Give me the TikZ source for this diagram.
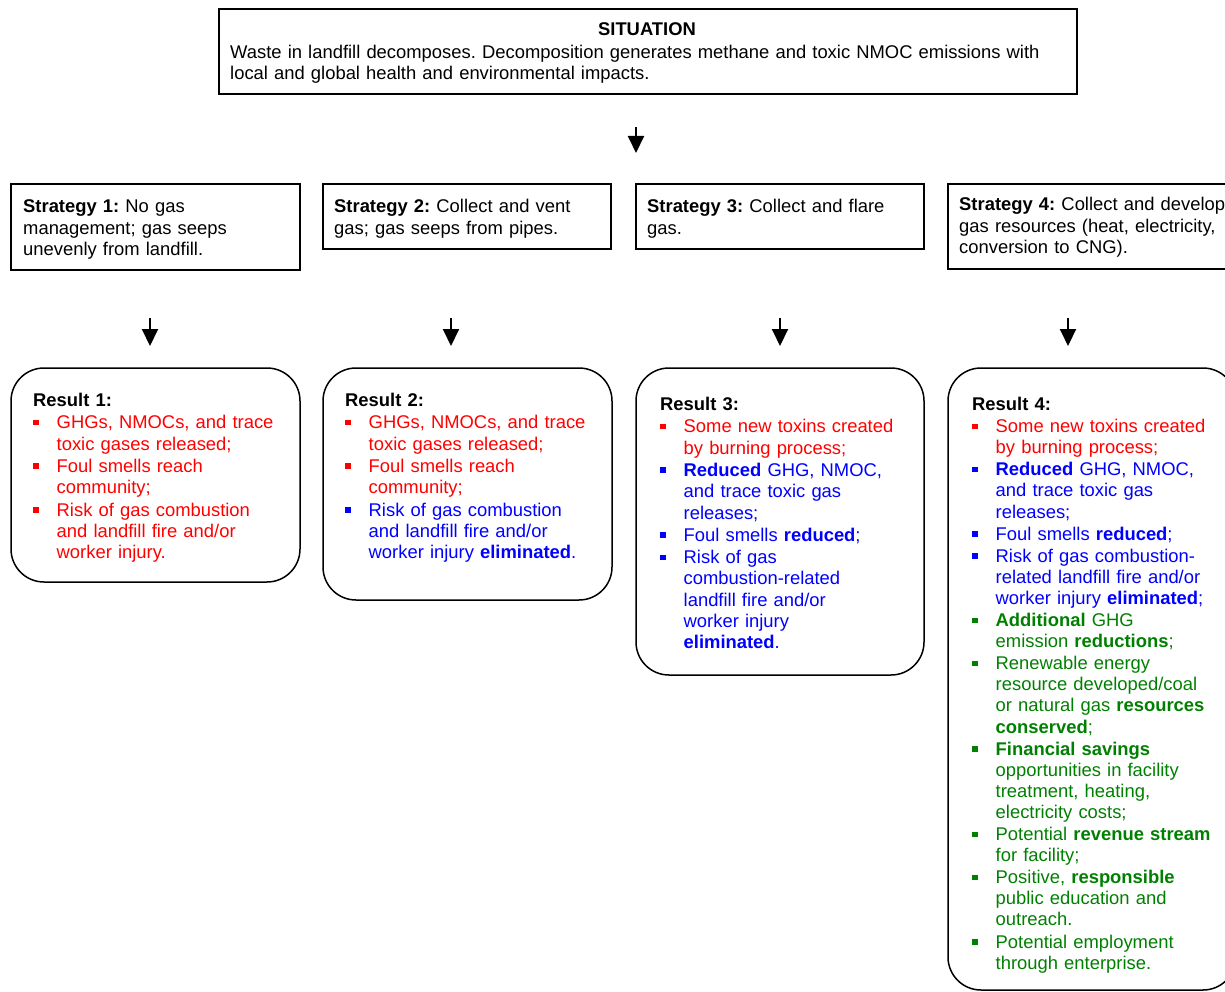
\documentclass[tikz,border=0pt]{standalone}
\usepackage{fontspec}
\setmainfont{Liberation Sans}
\usetikzlibrary{arrows.meta}
\definecolor{cred}{HTML}{FF0000}
\definecolor{cblue}{HTML}{0000FF}
\definecolor{cgreen}{HTML}{008000}
\newcommand{\mybul}{\makebox[23.5pt][l]{\raisebox{3.5pt}{\rule{5.5pt}{5.5pt}}}}
\newcommand{\ritem}[2]{\par\vspace{1pt}\noindent\hangindent=23.5pt\hangafter=1 {\color{#1}\mybul#2}\par}
\begin{document}
\frenchspacing
\begin{tikzpicture}[x=1pt,y=-1pt,
  sqbox/.style={draw=black,line width=1.7pt},
  rbox/.style={draw=black,line width=1.5pt,rounded corners=33pt},
  txt/.style={anchor=base west,inner sep=0pt,align=left,text width=320pt,
    font=\fontsize{18.4pt}{21.3pt}\selectfont\frenchspacing},
  flowarrow/.style={line width=2pt,-{Triangle[width=16pt,length=17pt]}}]
\useasboundingbox (0,0) rectangle (1225,992);
\clip (0,0) rectangle (1225,992);
% situation
\draw[sqbox] (219,9) rectangle (1077,94);
\node[anchor=base,inner sep=0pt,font=\fontsize{18.4pt}{21.3pt}\selectfont\bfseries] (sittitle) at (647,36) {SITUATION};
\node[txt,text width=900pt] (sittext) at (230,58.3) {Waste in landfill decomposes. Decomposition generates methane and toxic NMOC emissions with\newline local and global health and environmental impacts.};
% strategies
\draw[sqbox] (11,184) rectangle (300,270);
\draw[sqbox] (323,184) rectangle (611,249);
\draw[sqbox] (636,184) rectangle (924,249);
\draw[sqbox] (948,184) rectangle (1240,269);
\node[txt] (s1) at (23,213) {\textbf{Strategy 1:} No gas\newline management; gas seeps\newline unevenly from landfill.};
\node[txt] (s2) at (334,213) {\textbf{Strategy 2:} Collect and vent\newline gas; gas seeps from pipes.};
\node[txt] (s3) at (647,213) {\textbf{Strategy 3:} Collect and flare\newline gas.};
\node[txt] (s4) at (959,211) {\textbf{Strategy 4:} Collect and develop\newline gas resources (heat, electricity,\newline conversion to CNG).};
% arrows
\coordinate (a0s) at (636,127); \coordinate (a0e) at (636,153);
\coordinate (a1s) at (150,318); \coordinate (a1e) at (150,346);
\coordinate (a2s) at (451,318); \coordinate (a2e) at (451,346);
\coordinate (a3s) at (780,318); \coordinate (a3e) at (780,346);
\coordinate (a4s) at (1068,318); \coordinate (a4e) at (1068,346);
\draw[flowarrow] (a0s) -- (a0e);
\draw[flowarrow] (a1s) -- (a1e);
\draw[flowarrow] (a2s) -- (a2e);
\draw[flowarrow] (a3s) -- (a3e);
\draw[flowarrow] (a4s) -- (a4e);
% results
\draw[rbox] (11,368) rectangle (300,582);
\draw[rbox] (323,368) rectangle (612,600);
\draw[rbox] (636,368) rectangle (924,675);
\draw[rbox] (948,368) rectangle (1236,990);
\node[txt] (r1) at (33,406.5) {\textbf{Result 1:}
\ritem{cred}{GHGs, NMOCs, and trace\newline toxic gases released;}
\ritem{cred}{Foul smells reach\newline community;}
\ritem{cred}{Risk of gas combustion\newline and landfill fire and/or\newline worker injury.}};
\node[txt] (r2) at (345,406.5) {\textbf{Result 2:}
\ritem{cred}{GHGs, NMOCs, and trace\newline toxic gases released;}
\ritem{cred}{Foul smells reach\newline community;}
\ritem{cblue}{Risk of gas combustion\newline and landfill fire and/or\newline worker injury \textbf{eliminated}.}};
\node[txt] (r3) at (660,410.5) {\textbf{Result 3:}
\ritem{cred}{Some new toxins created\newline by burning process;}
\ritem{cblue}{\textbf{Reduced} GHG, NMOC,\newline and trace toxic gas\newline releases;}
\ritem{cblue}{Foul smells \textbf{reduced};}
\ritem{cblue}{Risk of gas\newline combustion-related\newline landfill fire and/or\newline worker injury\newline \textbf{eliminated}.}};
\node[txt,font=\fontsize{18.4pt}{21.1pt}\selectfont\frenchspacing] (r4) at (972,410.5) {\textbf{Result 4:}
\ritem{cred}{Some new toxins created\newline by burning process;}
\ritem{cblue}{\textbf{Reduced} GHG, NMOC,\newline and trace toxic gas\newline releases;}
\ritem{cblue}{Foul smells \textbf{reduced};}
\ritem{cblue}{Risk of gas combustion-\newline related landfill fire and/or\newline worker injury \textbf{eliminated};}
\ritem{cgreen}{\textbf{Additional} GHG\newline emission \textbf{reductions};}
\ritem{cgreen}{Renewable energy\newline resource developed/coal\newline or natural gas \textbf{resources}\newline \textbf{conserved};}
\ritem{cgreen}{\textbf{Financial savings}\newline opportunities in facility\newline treatment, heating,\newline electricity costs;}
\ritem{cgreen}{Potential \textbf{revenue stream}\newline for facility;}
\ritem{cgreen}{Positive, \textbf{responsible}\newline public education and\newline outreach.}
\ritem{cgreen}{Potential employment\newline through enterprise.}};
\end{tikzpicture}
\end{document}
